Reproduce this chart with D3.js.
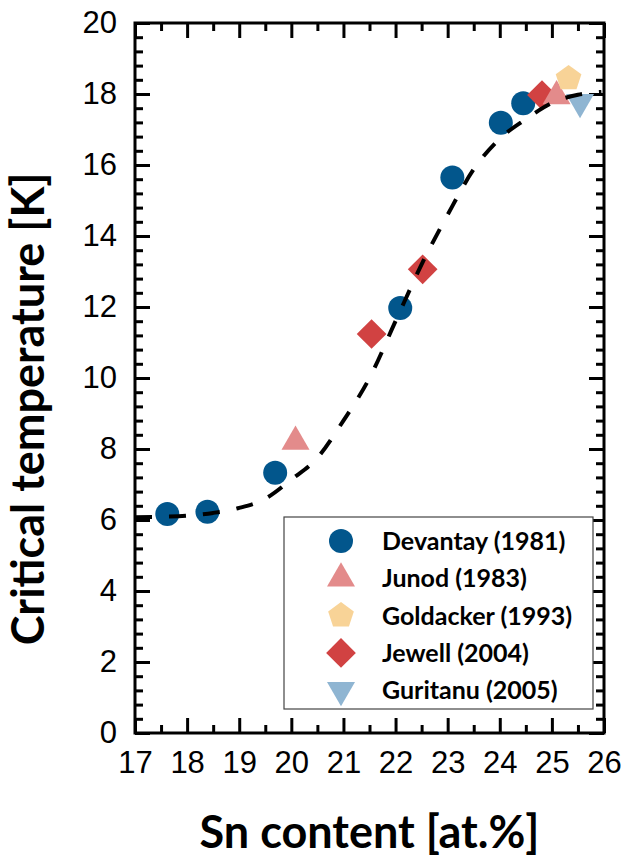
<!DOCTYPE html>
<html>
<head>
<meta charset="utf-8">
<script src="https://cdn.jsdelivr.net/npm/d3@7"></script>
<style>
  body { margin: 0; background: #fff; }
  .tick text { font-family: "Liberation Sans", Arial, sans-serif; font-size: 31px; fill: #000; }
  .title { font-family: Lato, "Open Sans", sans-serif; font-weight: bold; fill: #000; }
  .legend-label { font-family: Lato, "Open Sans", sans-serif; font-weight: bold; font-size: 25px; fill: #000; }
</style>
</head>
<body>
<div id="chart"></div>
<script>
// values
const devantayX = [17.62, 18.39, 19.69, 22.09, 23.09, 24.02, 24.45];
const devantayY = [6.17, 6.23, 7.33, 11.97, 15.65, 17.19, 17.74];

const junodX = [20.08, 25.09];
const junodY = [8.21, 17.94];

const goldackerX = [25.32];
const goldackerY = [18.44];

const jewellX = [21.54, 22.52, 24.81];
const jewellY = [11.24, 13.06, 17.97];

const guritanuX = [25.54];
const guritanuY = [17.77];

// dashed fit
const fitX = [17.0, 17.5, 18.0, 18.5, 19.0, 19.5, 20.0, 20.5, 21.0, 21.5, 22.0, 22.5, 23.0, 23.5, 24.0, 24.5, 25.0, 25.5, 25.95];
const fitY = [6.08, 6.09, 6.12, 6.2, 6.34, 6.6, 7.14, 7.75, 8.8, 10.0, 11.6, 13.2, 14.6, 15.88, 16.74, 17.29, 17.75, 17.98, 18.06];

const xTicks = [17, 18, 19, 20, 21, 22, 23, 24, 25, 26];
const yTicks = [0, 2, 4, 6, 8, 10, 12, 14, 16, 18, 20];

const legendNames = ["Devantay (1981)", "Junod (1983)", "Goldacker (1993)", "Jewell (2004)", "Guritanu (2005)"];

// SVG size
let margin = { top: 23, right: 34, bottom: 125, left: 135 };
let width = 638 - margin.left - margin.right,
  height = 858 - margin.top - margin.bottom;

// pentagon symbol, size = circumradius squared
const symbolPentagon = {
  draw(context, size) {
    const r = Math.sqrt(size);
    for (let i = 0; i < 5; i++) {
      const a = -Math.PI / 2 + i * 2 * Math.PI / 5;
      const px = r * Math.cos(a), py = r * Math.sin(a);
      if (i === 0) context.moveTo(px, py);
      else context.lineTo(px, py);
    }
    context.closePath();
  }
};

const series = [
  { name: legendNames[0], xs: devantayX, ys: devantayY, color: "#02568c",
    sym: d3.symbol(d3.symbolCircle, Math.PI * 12 * 12), rot: 0 },
  { name: legendNames[3], xs: jewellX, ys: jewellY, color: "#d14242",
    sym: d3.symbol(d3.symbolSquare, 21 * 21), rot: 45 },
  { name: legendNames[1], xs: junodX, ys: junodY, color: "#e38b8b",
    sym: d3.symbol(d3.symbolTriangle, 28 * 28 * Math.sqrt(3) / 4), rot: 0 },
  { name: legendNames[2], xs: goldackerX, ys: goldackerY, color: "#f8d397",
    sym: d3.symbol(symbolPentagon, 13.5 * 13.5), rot: 0 },
  { name: legendNames[4], xs: guritanuX, ys: guritanuY, color: "#8fb5d2",
    sym: d3.symbol(d3.symbolTriangle, 28 * 28 * Math.sqrt(3) / 4), rot: 180 }
];

let svg = d3
  .select("#chart")
  .append("svg")
  .attr("width", 638)
  .attr("height", 858)
  .append("g")
  .attr("transform", "translate(" + margin.left + "," + margin.top + ")");

let x = d3.scaleLinear().domain([17, 26]).range([0, width]);
let y = d3.scaleLinear().domain([0, 20]).range([height, 0]);

const xMinor = d3.range(17, 26.01, 0.5).filter(v => !xTicks.includes(v));
const yMinor = d3.range(0, 20.01, 0.4).map(v => +v.toFixed(1)).filter(v => !yTicks.includes(v));

function drawAxis(axisFn, scale, major, minor, transform, withLabels) {
  let g = svg.append("g").attr("transform", transform);
  g.call(axisFn(scale).tickValues(minor).tickSizeInner(-8).tickSizeOuter(0).tickFormat(""));
  g.append("g").call(axisFn(scale).tickValues(major).tickSizeInner(-15).tickSizeOuter(0)
    .tickPadding(18).tickFormat(withLabels ? d3.format("d") : ""));
  g.selectAll("line").attr("stroke", "#000").attr("stroke-width", 3);
  g.selectAll(".domain").remove();
}

drawAxis(d3.axisBottom, x, xTicks, xMinor, "translate(0," + height + ")", true);
drawAxis(d3.axisTop, x, xTicks, xMinor, "translate(0,0)", false);
drawAxis(d3.axisLeft, y, yTicks, yMinor, "translate(0,0)", true);
drawAxis(d3.axisRight, y, yTicks, yMinor, "translate(" + width + ",0)", false);

// frame
svg.append("rect")
  .attr("x", 0).attr("y", 0)
  .attr("width", width).attr("height", height)
  .attr("fill", "none")
  .attr("stroke", "#000")
  .attr("stroke-width", 3);

// points
series.forEach(s => {
  svg.append("g")
    .selectAll("path")
    .data(s.xs.map((v, i) => [v, s.ys[i]]))
    .enter()
    .append("path")
    .attr("d", s.sym)
    .attr("transform", d => "translate(" + x(d[0]) + "," + y(d[1]) + ") rotate(" + s.rot + ")")
    .attr("fill", s.color);
});

// fit curve on top
let line = d3.line()
  .x(d => x(d[0]))
  .y(d => y(d[1]))
  .curve(d3.curveMonotoneX);

svg.append("path")
  .datum(fitX.map((v, i) => [v, fitY[i]]))
  .attr("d", line)
  .attr("fill", "none")
  .attr("stroke", "#000")
  .attr("stroke-width", 4)
  .attr("stroke-dasharray", "17,17");

// legend
let legend = svg.append("g").attr("transform", "translate(149,494)");
legend.append("rect")
  .attr("width", 309).attr("height", 192)
  .attr("fill", "#fff")
  .attr("stroke", "#444")
  .attr("stroke-width", 1.2);

const legendOrder = [0, 2, 3, 1, 4];
legendOrder.forEach((si, i) => {
  const s = series[si];
  const ry = 24 + i * 37.3;
  legend.append("path")
    .attr("d", s.sym)
    .attr("transform", "translate(57," + ry + ") rotate(" + s.rot + ")")
    .attr("fill", s.color);
  legend.append("text")
    .attr("class", "legend-label")
    .attr("x", 98)
    .attr("y", ry + 9)
    .text(s.name);
});

// axis titles
svg.append("text")
  .attr("class", "title")
  .attr("x", width / 2)
  .attr("y", height + 115)
  .attr("text-anchor", "middle")
  .style("font-size", "45px")
  .text("Sn content [at.%]");

svg.append("text")
  .attr("class", "title")
  .attr("transform", "translate(" + (44 - margin.left) + "," + (409 - margin.top) + ") rotate(-90)")
  .attr("text-anchor", "middle")
  .style("font-size", "45px")
  .text("Critical temperature [K]");
</script>
</body>
</html>
